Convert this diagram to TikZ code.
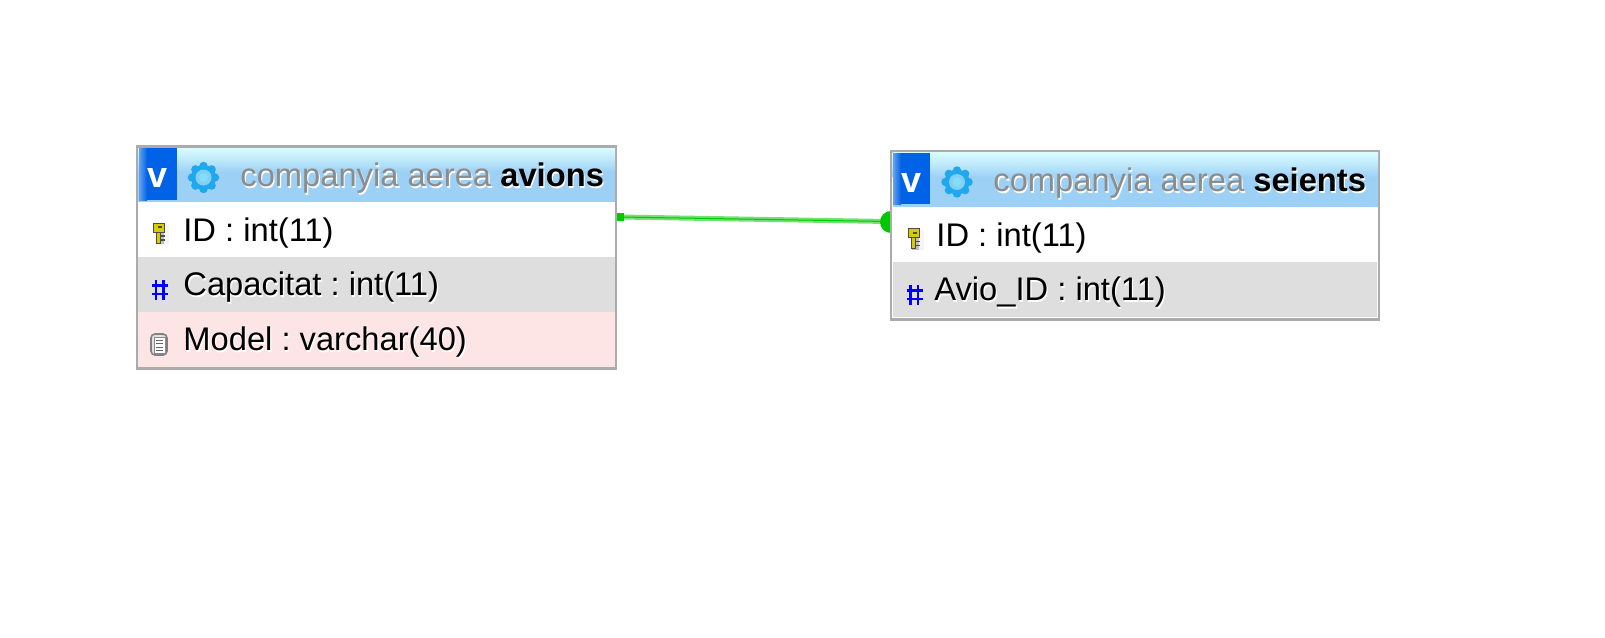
\documentclass[tikz,border=0pt]{standalone}
\usepackage{fontspec}
\setmainfont{Liberation Sans}
\usepackage{xcolor}
\usetikzlibrary{positioning, calc, shadings}
\definecolor{tableborder}{HTML}{ABABAB}
\definecolor{headerblue}{HTML}{9DD0F5}
\definecolor{headerlight}{HTML}{D8FCFF}
\definecolor{vblue}{HTML}{0062E6}
\definecolor{gearblue}{HTML}{1FA8EE}
\definecolor{rowgrey}{HTML}{DEDEDE}
\definecolor{rowpink}{HTML}{FEE5E5}
\definecolor{linkgreen}{HTML}{00C800}
\definecolor{titlegrey}{HTML}{8C8C8C}
\newcommand{\halo}[1]{\rlap{\raisebox{-1.1pt}{\hspace{0.6pt}\textcolor{white}{#1}}}#1}
\newcommand{\titlehalo}[2]{\rlap{\raisebox{-1.1pt}{\hspace{0.6pt}\textcolor{white}{#1 \textbf{#2}}}}#1 \textcolor{black}{\textbf{#2}}}
\tikzset{
    tablebox/.style={draw=tableborder, line width=1.2pt, fill=white, inner sep=0pt},
    fieldtext/.style={anchor=base west, inner sep=0pt, font=\fontsize{16.35}{18}\selectfont\frenchspacing, text=black},
    titletext/.style={anchor=base west, inner sep=0pt, font=\fontsize{16.35}{18}\selectfont\frenchspacing, text=titlegrey},
    vicon/.style={anchor=center, inner sep=0pt, font=\fontsize{18}{18}\bfseries\selectfont, text=white}
}
% key symbol, hash symbol, page symbol and gear
\newcommand{\keyicon}[1]{
    \fill[black!25] ($(#1)+(-3,-8)$) rectangle ($(#1)+(8,11)$);
    \fill[white!60!black!10] ($(#1)+(4,-9)$) rectangle ($(#1)+(9,11)$);
    \fill[yellow!65!olive, draw=black!70, line width=0.5pt] ($(#1)+(-6,-10)$) rectangle ($(#1)+(5,-1)$);
    \fill[yellow!65!olive, draw=black!70, line width=0.5pt] ($(#1)+(-3,-1)$) rectangle ($(#1)+(1,10)$);
    \fill[black!70] ($(#1)+(-2,-7)$) rectangle ($(#1)+(2,-5)$);
    \draw[black!70, line width=0.6pt] ($(#1)+(1,3)$) -- ($(#1)+(5,3)$);
    \draw[black!70, line width=0.6pt] ($(#1)+(1,7)$) -- ($(#1)+(5,7)$);
}
\newcommand{\hashicon}[1]{
    \foreach \xx in {-4,3.5} \draw[blue, line width=1.1pt] ($(#1)+(\xx,-10)$) -- ($(#1)+(\xx,10)$);
    \foreach \yy in {-4.5,4} \draw[blue, line width=1.1pt] ($(#1)+(-8,\yy)$) -- ($(#1)+(8,\yy)$);
}
\newcommand{\pageicon}[1]{
    \fill[black!12, draw=black!50, line width=0.8pt, rounded corners=2pt] ($(#1)+(-8,-10)$) rectangle ($(#1)+(8,11)$);
    \fill[white, draw=black!45, line width=0.5pt] ($(#1)+(-5,-7)$) rectangle ($(#1)+(6,9)$);
    \foreach \yy in {-4,-0.5,3,6.5} \draw[black!60, line width=0.5pt] ($(#1)+(-3,\yy)$) -- ($(#1)+(4,\yy)$);
}
\newcommand{\gearicon}[1]{
    \foreach \aa in {0,45,...,315} \fill[gearblue] ($(#1)+(\aa:11.5)$) circle (4.2);
    \fill[gearblue] (#1) circle (12.5);
    \fill[gearblue!55!white] (#1) circle (8);
    \fill[gearblue!45!white!85!cyan] (#1) circle (4.5);
}
\begin{document}
\begin{tikzpicture}[x=0.5pt, y=-0.5pt]
    \useasboundingbox (0,0) rectangle (1605,637);
    \fill[white] (0,0) rectangle (1605,637);

    % Connector (under the boxes)
    \coordinate (linkstart) at (620,217);
    \coordinate (linkend) at (888,221.5);
    \draw[linkgreen!55!white, line width=2.5pt] (linkstart) -- (linkend);
    \draw[linkgreen, line width=0.5pt] (linkstart) -- (linkend);
    \fill[linkgreen] (617,213) rectangle (624,221);
    \fill[linkgreen] (891,222) circle (11);

    % Table avions
    \node (avions) [tablebox, minimum width=479.5pt/2, minimum height=222pt/2] at (376.5,257.5) {};
    \shade[top color=headerlight, bottom color=headerblue, middle color=headerblue!45!headerlight] (138,148) rectangle (615,172);
    \fill[headerblue] (138,172) rectangle (615,202);
    \fill[rowgrey] (138,257) rectangle (614.5,312);
    \fill[rowpink] (138,312) rectangle (614.5,367);
    \fill[vblue] (139,148) rectangle (177,200);
    \shade[left color=vblue!60!white, right color=vblue] (139,148) rectangle (147,200);
    \node (vavions) [vicon] at (157.5,178) {v};
    \gearicon{203.5,177.5}
    \node (tavions) [titletext] at (240,186) {\titlehalo{companyia aerea}{avions}};
    \keyicon{159.5,233}
    \node (a1) [fieldtext] at (183,241) {ID : int(11)};
    \hashicon{160,290}
    \node (a2) [fieldtext] at (183,295) {\halo{Capacitat : int(11)}};
    \pageicon{159,344}
    \node (a3) [fieldtext] at (183,350) {\halo{Model : varchar(40)}};

    % Table seients
    \node (seients) [tablebox, minimum width=488pt/2, minimum height=168pt/2] at (1135,235.5) {};
    \shade[top color=headerlight, bottom color=headerblue, middle color=headerblue!45!headerlight] (892.5,152.5) rectangle (1378,177);
    \fill[headerblue] (892.5,177) rectangle (1378,207);
    \fill[rowgrey] (892.5,262) rectangle (1377,317);
    \fill[vblue] (893,153) rectangle (930,204);
    \shade[left color=vblue!60!white, right color=vblue] (893,153) rectangle (901,204);
    \node (vseients) [vicon] at (911,183) {v};
    \gearicon{957,182}
    \node (tseients) [titletext] at (993,191) {\titlehalo{companyia aerea}{seients}};
    \keyicon{914.5,238.5}
    \node (s1) [fieldtext] at (936,246) {ID : int(11)};
    \hashicon{914.5,295}
    \node (s2) [fieldtext] at (934,300) {\halo{Avio\_ID : int(11)}};
\end{tikzpicture}
\end{document}
